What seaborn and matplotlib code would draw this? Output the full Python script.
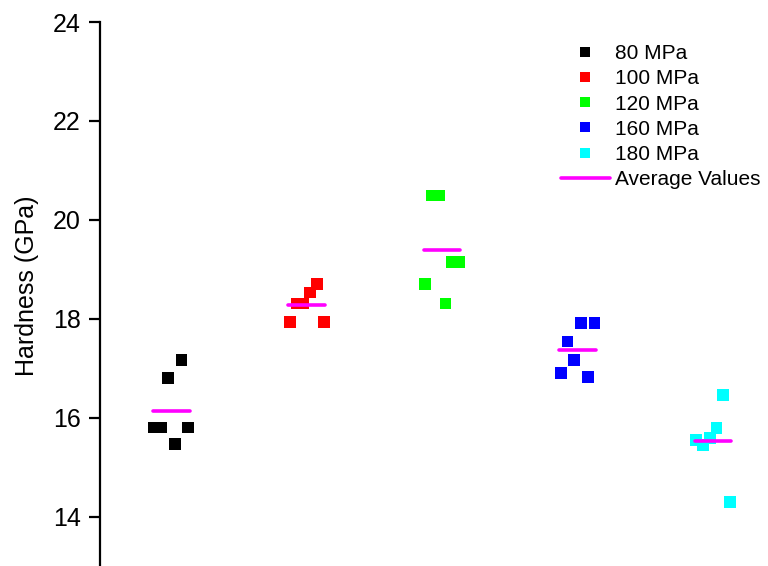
import numpy as np
import pandas as pd
import matplotlib
matplotlib.use("Agg")
import matplotlib.pyplot as plt
from matplotlib.lines import Line2D
import seaborn as sns

# Pressure groups and their hardness measurements (GPa), six indents each,
# listed left-to-right as they are spread within each group column
pressures = ["80 MPa", "100 MPa", "120 MPa", "160 MPa", "180 MPa"]
h_80 = [15.80, 15.80, 16.80, 15.47, 17.16, 15.80]
h_100 = [17.93, 18.31, 18.31, 18.53, 18.71, 17.93]
h_120 = [18.71, 20.49, 20.49, 18.31, 19.14, 19.14]
h_160 = [16.90, 17.54, 17.16, 17.92, 16.82, 17.92]
h_180 = [15.54, 15.45, 15.59, 15.79, 16.45, 14.30]
colors = ["#000000", "#FF0000", "#00FF00", "#0000FF", "#00FFFF"]
avg_color = "#FF00FF"
yticks = [14, 16, 18, 20, 22, 24]

groups = [h_80, h_100, h_120, h_160, h_180]
spread = np.linspace(-0.125, 0.125, 6)

rows = []
for gi, (name, vals) in enumerate(zip(pressures, groups)):
    for k, v in enumerate(vals):
        rows.append({"x": gi + 1 + spread[k], "hardness": v, "pressure": name})
df = pd.DataFrame(rows)
means = df.groupby("pressure", sort=False)["hardness"].mean().reindex(pressures).values

sns.set_theme(style="ticks")
plt.rcParams["font.family"] = ["Liberation Sans", "DejaVu Sans"]
plt.rcParams["text.color"] = "black"
plt.rcParams["axes.labelcolor"] = "black"

fig = plt.figure(figsize=(7.68, 5.66), dpi=100)
ax = fig.add_axes([100 / 768, 0.0, 1 - 100 / 768, 1 - 22 / 566])

sns.scatterplot(data=df, x="x", y="hardness", hue="pressure",
                palette=dict(zip(pressures, colors)), marker="s", s=72,
                linewidth=0, legend=False, ax=ax, zorder=3)

centers = np.arange(1, len(pressures) + 1)
ax.hlines(means, centers - 0.135, centers + 0.135, color=avg_color,
          linewidth=2.6, zorder=4, capstyle="round")

ax.set_xlim(0.474, 5.406)
ax.set_ylim(13.0, 24.0)
ax.set_yticks(yticks)
ax.set_yticklabels([str(t) for t in yticks])
ax.set_xticks([])
ax.set_xlabel("")
ax.set_ylabel("Hardness (GPa)", fontsize=18, color="black")
ax.yaxis.set_label_coords(-0.092, 0.515)

for side in ["top", "right", "bottom"]:
    ax.spines[side].set_visible(False)
ax.spines["left"].set_linewidth(1.6)
ax.spines["left"].set_color("black")
ax.tick_params(axis="y", direction="out", length=8, width=1.6, colors="black",
               labelsize=18, pad=6)

handles = [Line2D([], [], linestyle="none", marker="s", markersize=7.2,
                  markerfacecolor=c, markeredgewidth=0) for c in colors]
handles.append(Line2D([], [], color=avg_color, linewidth=2.6))
labels = pressures + ["Average Values"]
leg = fig.legend(handles, labels, loc="upper left",
                 bbox_to_anchor=(561 / 768, 1 - 44 / 566), frameon=False,
                 fontsize=15, handlelength=2.35, handletextpad=0.22,
                 labelspacing=0.3, borderpad=0, borderaxespad=0)
for t in leg.get_texts():
    t.set_color("black")

fig.savefig("out.png", dpi=100)
